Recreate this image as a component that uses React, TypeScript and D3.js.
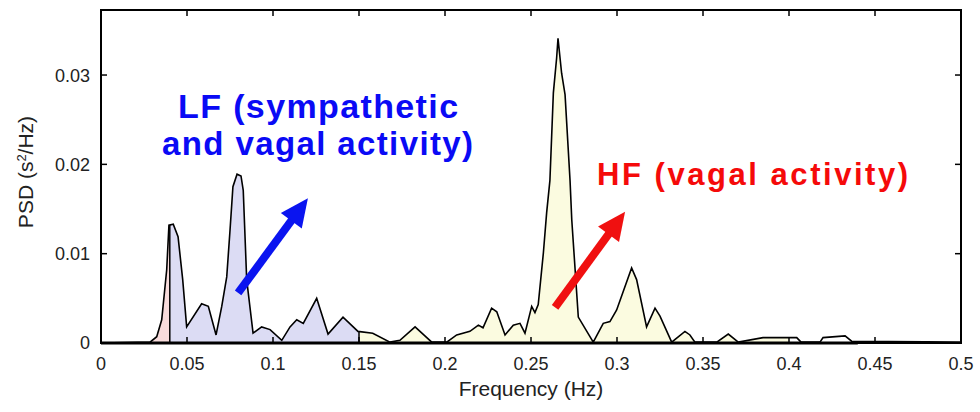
import React from "react";
import * as d3 from "d3";

// Frequency (Hz) and PSD (s^2/Hz)
const freq = [
  0, 0.0285, 0.0324, 0.0353, 0.0382, 0.0395, 0.042, 0.0448, 0.0475, 0.0498,
  0.0585, 0.0624, 0.0669, 0.0702, 0.0731, 0.075, 0.0767, 0.0791, 0.0814, 0.0827,
  0.0847, 0.0884, 0.0934, 0.0983, 0.1051, 0.1099, 0.1138, 0.1176, 0.1254, 0.132,
  0.1407, 0.1494, 0.158, 0.168, 0.1738, 0.1826, 0.1923, 0.201, 0.2068, 0.2145,
  0.2194, 0.2221, 0.2271, 0.2301, 0.2349, 0.2397, 0.2436, 0.2465, 0.2504, 0.2523,
  0.2542, 0.2572, 0.2591, 0.261, 0.263, 0.2649, 0.2657, 0.2678, 0.2698, 0.2727,
  0.2737, 0.2775, 0.2862, 0.292, 0.2959, 0.2998, 0.3085, 0.3114, 0.3172, 0.3221,
  0.325, 0.3318, 0.3395, 0.3424, 0.3453, 0.358, 0.3647, 0.3705, 0.3849, 0.4045,
  0.407, 0.418, 0.4198, 0.4326, 0.4364, 0.5,
];
const psd = [
  0, 0.0001, 0.0007, 0.0026, 0.0082, 0.0132, 0.0133, 0.0119, 0.0071, 0.0018,
  0.0044, 0.0041, 0.0009, 0.0041, 0.0074, 0.0126, 0.0175, 0.0189, 0.0187, 0.0171,
  0.0071, 0.0011, 0.0018, 0.0015, 0.0003, 0.0018, 0.0026, 0.0022, 0.005, 0.001,
  0.0029, 0.0013, 0.0011, 0.0001, 0.0003, 0.0018, 0.0001, 0.0001, 0.0009, 0.0013,
  0.002, 0.0017, 0.0039, 0.0035, 0.0009, 0.002, 0.0022, 0.0011, 0.0041, 0.0034,
  0.0043, 0.0101, 0.0146, 0.0182, 0.028, 0.0319, 0.0341, 0.0302, 0.0278, 0.0182,
  0.0138, 0.0029, 0.0001, 0.0022, 0.0024, 0.0037, 0.0084, 0.0071, 0.0018, 0.0039,
  0.003, 0.0001, 0.0013, 0.0009, 0.0001, 0.0001, 0.001, 0.0001, 0.0006, 0.0006,
  0.0001, 0.0001, 0.0006, 0.0008, 0.0002, 0.0001,
];

const xTicks = [0, 0.05, 0.1, 0.15, 0.2, 0.25, 0.3, 0.35, 0.4, 0.45, 0.5];
const xTickLabels = ["0", "0.05", "0.1", "0.15", "0.2", "0.25", "0.3", "0.35", "0.4", "0.45", "0.5"];
const yTicks = [0, 0.01, 0.02, 0.03];
const yTickLabels = ["0", "0.01", "0.02", "0.03"];

// frequency bands: [start, end]
const bandNames = ["VLF", "LF", "HF"];
const bandStart = [0, 0.04, 0.15];
const bandEnd = [0.04, 0.15, 0.4];
const bandColors = ["#f8dcdc", "#dcdcf4", "#fbfbe0"];

// annotations (data coordinates)
const lfLines = ["LF (sympathetic", "and vagal activity)"];
const lfPos = [[0.0448, 0.0252], [0.0355, 0.021]];
const hfText = "HF (vagal activity)";
const hfPos = [0.2884, 0.0177];
const blueArrow = [[0.0797, 0.0056], [0.1203, 0.0162]];
const redArrow = [[0.264, 0.004], [0.3047, 0.0147]];

const W = 980, H = 412;
const L = 101, R = 961, T = 10, B = 343;

export default function App() {
  const x = d3.scaleLinear().domain([0, 0.5]).range([L, R]);
  const y = d3.scaleLinear().domain([0, 0.03728]).range([B, T]);
  const pts: [number, number][] = freq.map((f, i) => [f, psd[i]]);
  const line = d3.line<[number, number]>().x((d) => x(d[0])).y((d) => y(d[1]));
  const area = d3
    .area<[number, number]>()
    .x((d) => x(d[0]))
    .y0(y(0))
    .y1((d) => y(d[1]));
  const interp = (f: number) => {
    const i = d3.bisector((d: [number, number]) => d[0]).right(pts, f);
    if (i <= 0) return pts[0][1];
    if (i >= pts.length) return pts[pts.length - 1][1];
    const a = pts[i - 1], b = pts[i];
    return a[1] + ((b[1] - a[1]) * (f - a[0])) / (b[0] - a[0]);
  };
  const tick = 6;
  const font = "'Liberation Sans', Arial, sans-serif";

  const arrow = (a: number[][], color: string, key: string) => {
    const x1 = x(a[0][0]), y1 = y(a[0][1]), x2 = x(a[1][0]), y2 = y(a[1][1]);
    const ang = Math.atan2(y2 - y1, x2 - x1);
    const hl = 28, hw = 13;
    const bx = x2 - hl * Math.cos(ang), by = y2 - hl * Math.sin(ang);
    const px = -Math.sin(ang), py = Math.cos(ang);
    return (
      <g key={key}>
        <line x1={x1} y1={y1} x2={bx + 2 * Math.cos(ang)} y2={by + 2 * Math.sin(ang)} stroke={color} strokeWidth={8} />
        <path
          d={`M${x2},${y2}L${bx + px * hw},${by + py * hw}L${bx - px * hw},${by - py * hw}Z`}
          fill={color}
        />
      </g>
    );
  };

  return (
    <svg width={W} height={H} style={{ position: "absolute", left: 0, top: 0, background: "#fff" }}>
      <defs>
        {bandNames.map((n, i) => (
          <clipPath id={`clip-${n}`} key={n}>
            <rect x={x(bandStart[i])} y={T} width={x(bandEnd[i]) - x(bandStart[i])} height={B - T} />
          </clipPath>
        ))}
      </defs>
      {bandNames.map((n, i) => (
        <path key={n} d={area(pts) || ""} fill={bandColors[i]} clipPath={`url(#clip-${n})`} />
      ))}
      {[0.04, 0.15].map((f) => (
        <line key={f} x1={x(f)} x2={x(f)} y1={y(0)} y2={y(interp(f))} stroke="#000" strokeWidth={1.5} />
      ))}
      <path d={line(pts) || ""} fill="none" stroke="#000" strokeWidth={1.6} />
      {/* axes box */}
      <rect x={L} y={T} width={R - L} height={B - T} fill="none" stroke="#000" strokeWidth={2} />
      <line x1={L} x2={x(0.44)} y1={B} y2={B} stroke="#000" strokeWidth={3} />
      {xTicks.map((t, i) => (
        <g key={"x" + i}>
          <line x1={x(t)} x2={x(t)} y1={B} y2={B - tick} stroke="#000" strokeWidth={1.5} />
          <line x1={x(t)} x2={x(t)} y1={T} y2={T + tick} stroke="#000" strokeWidth={1.5} />
          <text x={x(t)} y={370} textAnchor="middle" fontFamily={font} fontSize={18} fill="#222">
            {xTickLabels[i]}
          </text>
        </g>
      ))}
      {yTicks.map((t, i) => (
        <g key={"y" + i}>
          <line x1={L} x2={L + tick} y1={y(t)} y2={y(t)} stroke="#000" strokeWidth={1.5} />
          <line x1={R} x2={R - tick} y1={y(t)} y2={y(t)} stroke="#000" strokeWidth={1.5} />
          <text x={90} y={y(t)} dy="0.36em" textAnchor="end" fontFamily={font} fontSize={18} fill="#222">
            {yTickLabels[i]}
          </text>
        </g>
      ))}
      <text x={(L + R) / 2} y={396} textAnchor="middle" fontFamily={font} fontSize={21} fill="#222">
        Frequency (Hz)
      </text>
      <text
        transform={`translate(33,172) rotate(-90)`}
        textAnchor="middle"
        fontFamily={font}
        fontSize={21}
        fill="#222"
      >
        PSD (s<tspan dy={-7} fontSize={13}>2</tspan><tspan dy={7}>/Hz)</tspan>
      </text>
      {arrow(blueArrow, "#0a14f0", "ba")}
      {arrow(redArrow, "#f01010", "ra")}
      {lfLines.map((s, i) => (
        <text
          key={s}
          x={x(lfPos[i][0])}
          y={y(lfPos[i][1])}
          fontFamily={font}
          fontWeight="bold"
          fontSize={i === 0 ? 34 : 33}
          fill="#0a0af5"
          textLength={i === 0 ? 280 : 311}
          lengthAdjust="spacing"
        >
          {s}
        </text>
      ))}
      <text
        x={x(hfPos[0])}
        y={y(hfPos[1])}
        fontFamily={font}
        fontWeight="bold"
        fontSize={31}
        fill="#f50a0a"
        textLength={311}
        lengthAdjust="spacing"
      >
        {hfText}
      </text>
    </svg>
  );
}
